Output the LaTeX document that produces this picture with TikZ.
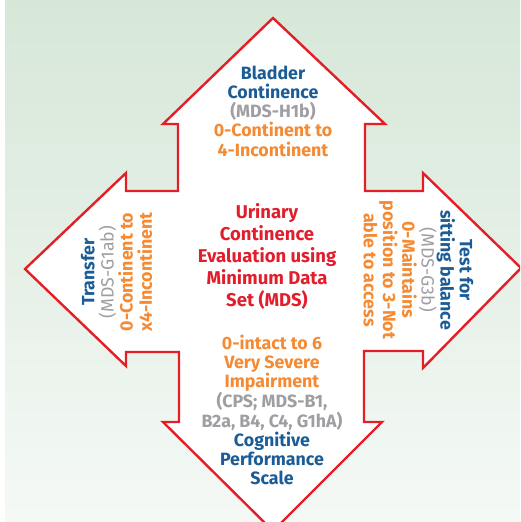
\documentclass[tikz,border=0pt]{standalone}
\usepackage{fontspec}
\setmainfont{Fira Sans}
\definecolor{cblue}{RGB}{27,92,151}
\definecolor{cgrey}{RGB}{158,158,163}
\definecolor{corange}{RGB}{245,138,50}
\definecolor{cred}{RGB}{226,30,45}
\definecolor{cstroke}{RGB}{228,30,38}
\definecolor{bgtop}{RGB}{214,231,216}
\definecolor{bgbot}{RGB}{245,249,246}
\tikzset{
  armtext/.style={align=center, font=\fontsize{17.8}{19.2}\selectfont\bfseries, inner sep=0pt},
  centertext/.style={align=center, font=\fontsize{18.5}{22}\selectfont\bfseries, text=cred, inner sep=0pt},
  crossshape/.style={draw=cstroke, fill=white, line width=2.4pt, line join=miter}
}
\begin{document}
\begin{tikzpicture}[x=1pt,y=-1pt]
\useasboundingbox (0,0) rectangle (520,522);
\clip (0,0) rectangle (520,522);
\shade[top color=bgtop, bottom color=bgbot] (5,0) rectangle (520,522);
\draw[crossshape] (273,18) -- (385,124) -- (365,124) -- (365,191) -- (423,191) -- (423,173)
  -- (521,268) -- (423,368) -- (423,351) -- (364,351) -- (364,422) -- (382,422)
  -- (273,531) -- (163,422) -- (179,422) -- (179,352) -- (126,352) -- (126,366)
  -- (25,269) -- (126,173) -- (126,191) -- (178,191) -- (178,124) -- (163,124) -- cycle;
\node[armtext] (top) at (273,111) {\textcolor{cblue}{Bladder}\\\textcolor{cblue}{Continence}\\\textcolor{cgrey}{(MDS-H1b)}\\\textcolor{corange}{0-Continent to}\\\textcolor{corange}{4-Incontinent}};
\node[centertext] (mid) at (267,256) {Urinary\\Continence\\Evaluation using\\Minimum Data\\Set (MDS)};
\node[armtext] (bottom) at (272,410) {\textcolor{corange}{0-intact to 6}\\\textcolor{corange}{Very Severe}\\\textcolor{corange}{Impairment}\\\textcolor{cgrey}{(CPS; MDS-B1,}\\\textcolor{cgrey}{B2a, B4, C4, G1hA)}\\\textcolor{cblue}{Cognitive}\\\textcolor{cblue}{Performance}\\\textcolor{cblue}{Scale}};
\node[armtext, rotate=90] (left) at (116.5,272) {\textcolor{cblue}{Transfer}\\\textcolor{cgrey}{\mdseries(MDS-G1ab)}\\\textcolor{corange}{0-Continent to}\\\textcolor{corange}{x4-Incontinent}};
\node[armtext, rotate=-90] (right) at (418.5,270) {\textcolor{cblue}{Test for}\\\textcolor{cblue}{sitting balance}\\\textcolor{cgrey}{\mdseries(MDS-G3b)}\\\textcolor{corange}{0-Maintains}\\\textcolor{corange}{position to 3-Not}\\\textcolor{corange}{able to access}};
\end{tikzpicture}
\end{document}
